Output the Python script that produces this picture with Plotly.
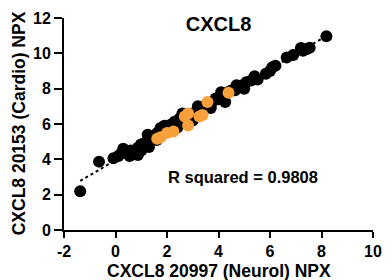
import numpy as np
import plotly.graph_objects as go

# Black points (Neurol NPX, Cardio NPX)
black_x = [-1.37, -0.64, -0.08, 0.11, 0.37, 0.55, 0.87, 0.87, 0.99, 1.25, 1.25, 1.43, 1.62, 1.75,
           1.87, 2.13, 2.31, 2.50, 2.63, 2.88, 3.13, 3.26, 3.51, 3.76, 3.89, 4.14, 4.26, 4.39,
           4.64, 4.89, 5.08, 5.27, 5.52, 5.84, 6.09, 6.21, 6.65, 7.28, 7.41, 7.54, 8.19,
           1.0, 1.5, 2.0, 2.2, 2.7, 3.0, 3.4, 3.6, 4.0, 4.5, 0.2, 0.6,
           0.3, 0.7, 1.1, 1.3, 1.6, 1.9, 2.4, 2.6, 3.0, 3.2, 3.7, 4.1, 4.7, 5.0, 5.4, 6.0, 6.9, 7.2]
black_y = [2.19, 3.87, 4.06, 4.19, 4.37, 4.19, 4.24, 4.65, 4.84, 5.02, 5.39, 5.21, 5.49, 5.77,
           5.58, 5.95, 6.14, 6.32, 6.05, 6.42, 6.70, 6.88, 7.07, 7.25, 7.44, 7.53, 7.25, 7.81,
           7.91, 8.18, 8.37, 8.46, 8.52, 8.84, 9.21, 9.30, 9.77, 10.14, 10.23, 10.32, 10.97,
           4.5, 5.3, 5.7, 6.0, 6.3, 6.5, 6.8, 7.0, 7.4, 7.9, 4.3, 4.5,
           4.6, 4.3, 4.9, 4.7, 5.1, 5.9, 5.8, 6.6, 6.2, 7.0, 6.9, 7.8, 8.2, 8.0, 8.7, 9.0, 9.9, 10.3]

# Orange points
orange_x = [1.62, 2.0, 2.25, 2.69, 2.82, 2.82, 3.26, 3.38, 3.57, 4.39, 1.75]
orange_y = [5.17, 5.49, 5.58, 6.42, 6.60, 5.92, 6.42, 6.51, 7.25, 7.77, 5.25]

x_ticks = [-2, 0, 2, 4, 6, 8, 10]
x_tick_labels = ["-2", "0", "2", "4", "6", "8", "10"]
y_ticks = [0, 2, 4, 6, 8, 10, 12]
y_tick_labels = ["0", "2", "4", "6", "8", "10", "12"]

all_x = np.array(black_x + orange_x)
all_y = np.array(black_y + orange_y)
slope, intercept = np.polyfit(all_x, all_y, 1)
fit_x = np.array([all_x.min(), all_x.max()])
fit_y = slope * fit_x + intercept

fig = go.Figure()
fig.add_trace(go.Scatter(x=fit_x, y=fit_y, mode="lines",
                         line=dict(color="black", width=2, dash="dot"), showlegend=False))
fig.add_trace(go.Scatter(x=black_x, y=black_y, mode="markers",
                         marker=dict(color="black", size=12), showlegend=False))
fig.add_trace(go.Scatter(x=orange_x, y=orange_y, mode="markers",
                         marker=dict(color="#F7A03C", size=12), showlegend=False))

ff = "Liberation Sans"
def bf(size):
    return dict(size=size, family=ff, color="black", weight="bold")

def b(t):
    return "<b>" + t + "</b>"

W, H = 392, 280
ML, MR, MT, MB = 64, 10, 15, 50
pw, ph = W - ML - MR, H - MT - MB

def px_to_paper(xp, yp):
    return (xp - ML) / pw, (H - MB - yp) / ph

tx, ty = px_to_paper(223, 272)
yx, yy = px_to_paper(17.5, 122)
rx, ry = px_to_paper(248, 187.5)

fig.update_layout(
    width=W, height=H,
    margin=dict(l=ML, r=MR, t=MT, b=MB),
    paper_bgcolor="white", plot_bgcolor="white",
    font=bf(13),
    hovermode=False,
    title=dict(text="CXCL8", x=0.5, xref="paper", xanchor="center", y=0.916, yanchor="middle",
               font=bf(20)),
    xaxis=dict(range=[-2, 10], tickvals=x_ticks, ticktext=[b(t) for t in x_tick_labels],
               showgrid=False, zeroline=False,
               showline=True, linecolor="black", linewidth=2, ticks="outside",
               ticklen=6, tickwidth=2, tickcolor="black",
               tickfont=bf(16)),
    yaxis=dict(range=[0, 12], tickvals=y_ticks, ticktext=[b(t) for t in y_tick_labels],
               showgrid=False, zeroline=False,
               showline=True, linecolor="black", linewidth=2, ticks="outside",
               ticklen=8, tickwidth=2, tickcolor="black",
               tickfont=bf(16)),
    annotations=[
        dict(text="R squared = 0.9808", x=rx, y=ry, xref="paper", yref="paper",
             showarrow=False, font=bf(16.5)),
        dict(text="CXCL8 20997 (Neurol) NPX", x=tx, y=ty, xref="paper", yref="paper",
             showarrow=False, font=bf(17.5), xanchor="center", yanchor="middle"),
        dict(text="CXCL8 20153 (Cardio) NPX", x=yx, y=yy, xref="paper", yref="paper",
             showarrow=False, font=bf(17.5), textangle=-90, xanchor="center", yanchor="middle"),
    ],
)

fig.write_html("out.html", config={"displayModeBar": False},
               post_script="document.body.style.margin='0';document.body.style.padding='0';")
